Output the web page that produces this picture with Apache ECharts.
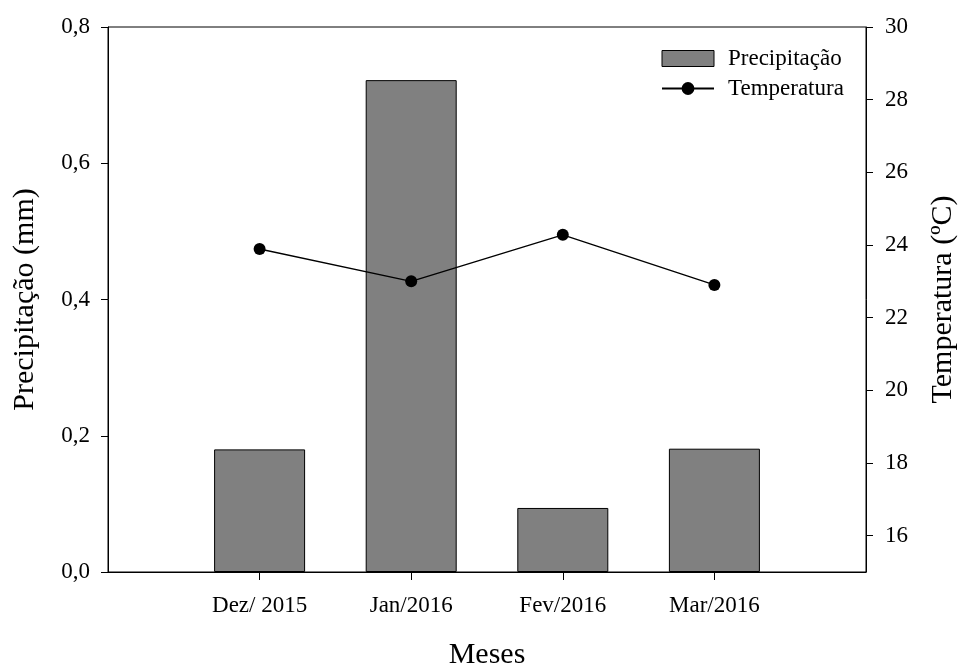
<!DOCTYPE html>
<html>
<head>
<meta charset="utf-8">
<script src="https://cdn.jsdelivr.net/npm/echarts@6/dist/echarts.min.js"></script>
<style>
html,body{margin:0;padding:0;background:#fff;}
#c{width:962px;height:666px;}
</style>
</head>
<body>
<div id="c"></div>
<script>
var categories = ['Dez/ 2015', 'Jan/2016', 'Fev/2016', 'Mar/2016'];
var precipitacao = [0.18, 0.722, 0.094, 0.181];
var temperatura = [23.89, 23.0, 24.28, 22.9];
var leftTicks = [0, 0.2, 0.4, 0.6, 0.8];
var rightTicks = [16, 18, 20, 22, 24, 26, 28, 30];

var FONT = 'Liberation Serif';
var axisCats = [''].concat(categories, ['']);
var barData = [null].concat(precipitacao, [null]);
var lineData = [null].concat(temperatura, [null]);

var chart = echarts.init(document.getElementById('c'), null, {renderer: 'canvas'});
chart.setOption({
  animation: false,
  backgroundColor: '#fff',
  textStyle: {fontFamily: FONT, color: '#000'},
  grid: {left: 108, right: 96, top: 27, bottom: 94, containLabel: false, outerBoundsMode: 'none',
    show: true, borderColor: '#000', borderWidth: 1, backgroundColor: 'transparent'},
  legend: {
    orient: 'vertical', left: 661, top: 47, padding: 0, itemWidth: 52, itemHeight: 16, itemGap: 7,
    textStyle: {fontFamily: FONT, fontSize: 23, color: '#000', padding: [0, 0, 0, 9]},
    data: [
      {name: 'Precipitação', icon: 'rect', itemStyle: {color: '#808080', borderColor: '#000', borderWidth: 1}},
      {name: 'Temperatura'}
    ]
  },
  xAxis: {
    type: 'category', data: axisCats, boundaryGap: false,
    name: 'Meses', nameLocation: 'middle', nameGap: 68,
    nameTextStyle: {fontFamily: FONT, fontSize: 30, color: '#000'},
    axisLine: {lineStyle: {color: '#000', width: 1}},
    axisTick: {length: 8, lineStyle: {color: '#000'}, interval: function (i) { return i >= 1 && i <= categories.length; }},
    axisLabel: {fontFamily: FONT, fontSize: 23, color: '#000', margin: 22, interval: 0},
    splitLine: {show: false}
  },
  yAxis: [
    {
      type: 'value', min: 0, max: 0.8, position: 'left',
      name: 'Precipitação (mm)', nameLocation: 'middle', nameGap: 68, nameRotate: 90,
      nameTextStyle: {fontFamily: FONT, fontSize: 30, color: '#000'},
      axisLine: {show: true, lineStyle: {color: '#000', width: 1}},
      axisTick: {show: true, length: 7, lineStyle: {color: '#000'}, customValues: leftTicks},
      axisLabel: {fontFamily: FONT, fontSize: 23, color: '#000', margin: 18, customValues: leftTicks,
        formatter: function (v) { return v.toFixed(1).replace('.', ','); }},
      splitLine: {show: false}
    },
    {
      type: 'value', min: 15, max: 30, position: 'right',
      name: 'Temperatura (ºC)', nameLocation: 'middle', nameGap: 62, nameRotate: 90,
      nameTextStyle: {fontFamily: FONT, fontSize: 30, color: '#000'},
      axisLine: {show: true, lineStyle: {color: '#000', width: 1}},
      axisTick: {show: true, length: 7, lineStyle: {color: '#000'}, customValues: rightTicks},
      axisLabel: {fontFamily: FONT, fontSize: 23, color: '#000', margin: 19, customValues: rightTicks},
      splitLine: {show: false}
    }
  ],
  series: [
    {
      name: 'Precipitação', type: 'bar', yAxisIndex: 0, data: barData, barWidth: 91,
      itemStyle: {color: '#808080', borderColor: '#000', borderWidth: 1}
    },
    {
      name: 'Temperatura', type: 'line', yAxisIndex: 1, data: lineData,
      symbol: 'circle', symbolSize: 12, connectNulls: false,
      lineStyle: {color: '#000', width: 1.3}, itemStyle: {color: '#000'}
    }
  ]
});
</script>
</body>
</html>
